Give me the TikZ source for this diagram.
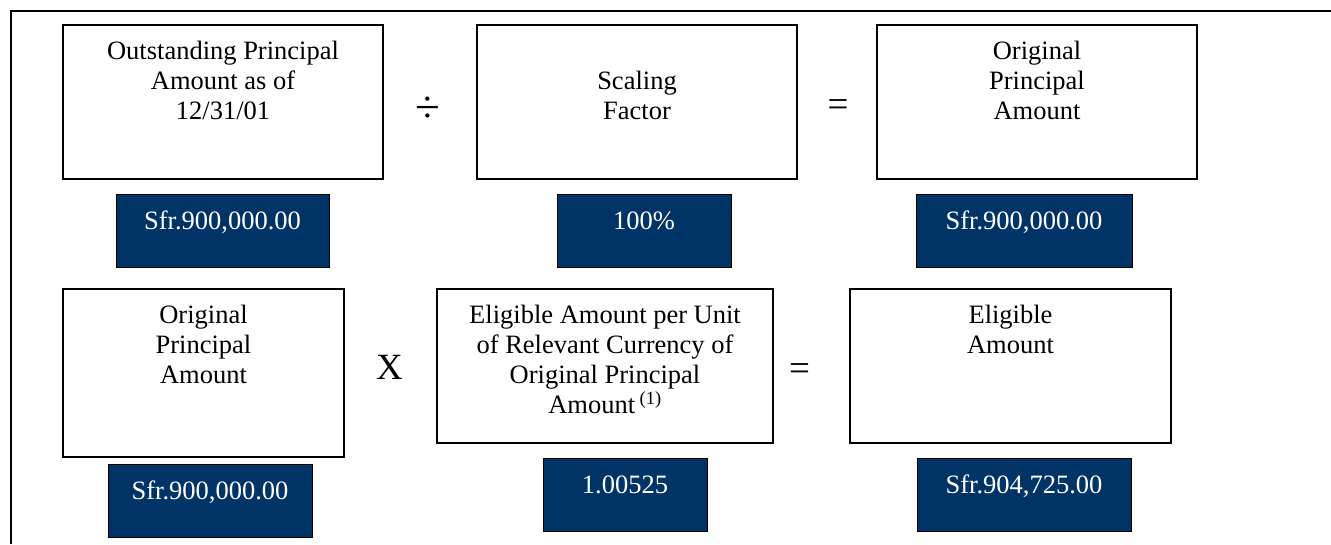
\documentclass[tikz,border=0pt]{standalone}
\usepackage{fontspec}
\setmainfont{Liberation Serif}
\usetikzlibrary{positioning}

\definecolor{valblue}{HTML}{003366}
\newcommand{\calcfont}{\fontsize{26.5}{30}\selectfont}
\newcommand{\opsfont}{\fontsize{37}{40}\selectfont}

\tikzset{
  box/.style={draw, line width=1.2pt, inner sep=0pt, minimum width=320pt, minimum height=154pt},
  boxtext/.style={anchor=north, align=center, inner sep=0pt, yshift=-14pt, font=\calcfont},
  valbox/.style={draw, line width=1pt, fill=valblue, text=white, font=\calcfont, inner sep=0pt,
    minimum height=73pt, text height=18pt, text depth=21pt},
  op/.style={font=\opsfont, inner sep=0pt}
}

\begin{document}
\begin{tikzpicture}[x=1pt,y=-1pt]
        \useasboundingbox (0,0) rectangle (1331,544);
        \draw[line width=2pt] (10.5,544) -- (10.5,11) -- (1331,11);

        \node[box] (outst) at (223,102) {};
        \node[box] (scale) at (637,102) {};
        \node[box] (origa) at (1037,102) {};
        \node[boxtext] (outst-t) at (outst.north) {\strut Outstanding Principal\\Amount as of\\12/31/01};
        \node[boxtext, yshift=-30pt] (scale-t) at (scale.north) {\strut Scaling\\Factor};
        \node[boxtext] (origa-t) at (origa.north) {\strut Original\\Principal\\Amount};

        \node[valbox, minimum width=213pt] (outst-v) [below=14pt of outst, xshift=-0.5pt] {Sfr.900,000.00};
        \node[valbox, minimum width=174pt] (scale-v) [below=14pt of scale, xshift=7pt] {100\%};
        \node[valbox, minimum width=216pt] (origa-v) [below=14pt of origa, xshift=-13pt] {Sfr.900,000.00};

        \node[op, font=\fontsize{45}{48}\selectfont] (div) at (427.5,110) {÷};
        \node[op] (eq1) at (838,108) {=};

        \node[box, minimum width=281pt, minimum height=168pt] (origb) at (203.5,373) {};
        \node[box, minimum width=336pt] (unit) at (605,366) {};
        \node[box, minimum width=321pt] (elig) at (1010.5,366) {};
        \node[boxtext] (origb-t) at (origb.north) {\strut Original\\Principal\\Amount};
        \node[boxtext] (unit-t) at (unit.north) {\strut Eligible Amount per Unit\\of Relevant Currency of\\Original Principal\\Amount\,\textsuperscript{(1)}};
        \node[boxtext] (elig-t) at (elig.north) {\strut Eligible\\Amount};

        \node[valbox, minimum width=204pt] (origb-v) [below=6pt of origb, xshift=6.5pt] {Sfr.900,000.00};
        \node[valbox, minimum width=164pt] (unit-v) [below=14pt of unit, xshift=20pt] {1.00525};
        \node[valbox, minimum width=214pt] (elig-v) [below=14pt of elig, xshift=13.5pt] {Sfr.904,725.00};

        \node[op] (mul) at (389.5,367.5) {X};
        \node[op] (eq2) at (799.5,372) {=};
      \end{tikzpicture}
\end{document}
